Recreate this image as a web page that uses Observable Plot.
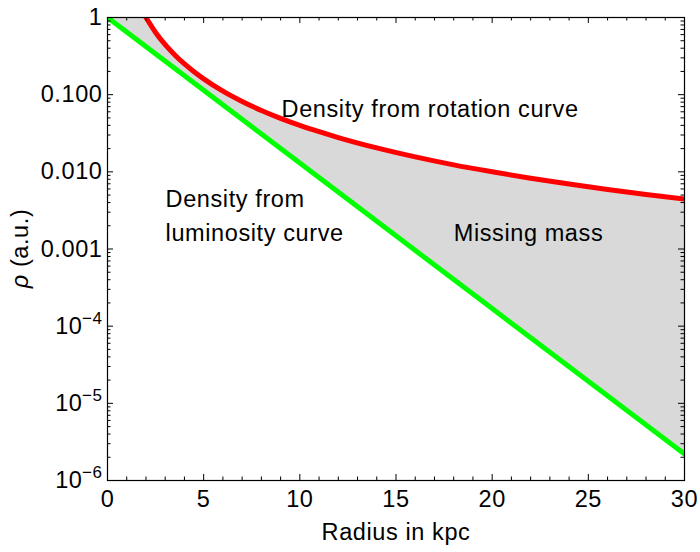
<!DOCTYPE html>
<html><head><meta charset="utf-8">
<script src="https://cdn.jsdelivr.net/npm/d3@7"></script>
<script src="https://cdn.jsdelivr.net/npm/@observablehq/plot@0.6"></script>
<style>body{margin:0;background:#fff} #chart{width:700px;height:552px}</style>
</head><body><div id="chart"></div>
<script>
// Data
const radiusRot = [2, 2.5, 3, 3.5, 4, 4.5, 5, 6, 7, 8, 9, 10, 11, 12, 14, 16, 18, 20, 22, 24, 26, 28, 30];
const densityRot = [1.0, 0.64, 0.444, 0.327, 0.25, 0.198, 0.16, 0.111, 0.0816, 0.0625, 0.0494, 0.040, 0.0331, 0.0278, 0.0204, 0.0156, 0.0123, 0.010, 0.00826, 0.00694, 0.00592, 0.0051, 0.00444];
const radiusLum = [0, 5, 10, 15, 20, 25, 30];
const densityLum = [1, 0.114, 0.0130, 1.48e-3, 1.69e-4, 1.93e-5, 2.2e-6];
const xTickLabels = [0, 5, 10, 15, 20, 25, 30];
const yTickValues = [1, 0.1, 0.01, 0.001];
const yTickLabels = ["1", "0.100", "0.010", "0.001"];
const yPowValues = [1e-4, 1e-5, 1e-6];
const yPowExps = ["\u22124", "\u22125", "\u22126"];
const noteX = [9.05, 3.02, 18.0];
const noteY = [0.0724, 2.93e-3, 1.75e-3];
const noteText = ["Density from rotation curve", "Density from\nluminosity curve", "Missing mass"];

const W = 700, H = 552, mL = 107, mR = 16, mT = 17, mB = 72;
const pw = W - mL - mR, ph = H - mT - mB;
const F = "Liberation Sans, Arial, Helvetica, sans-serif";
const FS = 23.5;

const lum = radiusLum.map((x, i) => ({x, y: densityLum[i]}));
const rot = radiusRot.map((x, i) => ({x, y: densityRot[i]}));
const notes = noteX.map((x, i) => ({x, y: noteY[i], text: noteText[i]}));

const xMajor = d3.range(0, 31, 5);
const xMinor = d3.range(0, 31).filter(d => d % 5 !== 0);
const yMajor = d3.range(-6, 1).map(k => Math.pow(10, k));
const yMinor = [];
for (let k = -6; k < 0; k++) for (let m = 2; m <= 9; m++) yMinor.push(m * Math.pow(10, k));

const plot = Plot.plot({
  width: W, height: H,
  marginLeft: mL, marginRight: mR, marginTop: mT, marginBottom: mB,
  style: {fontFamily: F, fontSize: FS + "px", background: "white", color: "black", letterSpacing: "0.6px"},
  x: {domain: [0, 30], axis: null},
  y: {type: "log", domain: [1e-6, 1], axis: null},
  marks: [
    Plot.areaY(lum, {x: "x", y1: "y", y2: 1, fill: "#d9d9d9"}),
    Plot.areaY(rot, {x: "x", y1: "y", y2: 1, fill: "white", curve: "monotone-x"}),
    Plot.line(lum, {x: "x", y: "y", stroke: "#00ff00", strokeWidth: 5, clip: true}),
    Plot.line(rot, {x: "x", y: "y", stroke: "#ff0000", strokeWidth: 5, curve: "monotone-x", clip: true}),
    // ticks (inward, on all four sides)
    Plot.tickY(yMajor, {y: d => d, insetRight: pw - 6, stroke: "black"}),
    Plot.tickY(yMinor, {y: d => d, insetRight: pw - 3.5, stroke: "black"}),
    Plot.tickY(yMajor, {y: d => d, insetLeft: pw - 6, stroke: "black"}),
    Plot.tickY(yMinor, {y: d => d, insetLeft: pw - 3.5, stroke: "black"}),
    Plot.tickX(xMajor, {x: d => d, insetTop: ph - 6, stroke: "black"}),
    Plot.tickX(xMinor, {x: d => d, insetTop: ph - 3.5, stroke: "black"}),
    Plot.tickX(xMajor, {x: d => d, insetBottom: ph - 6, stroke: "black"}),
    Plot.tickX(xMinor, {x: d => d, insetBottom: ph - 3.5, stroke: "black"}),
    Plot.frame({stroke: "black", strokeWidth: 1.2}),
    // y tick labels
    Plot.text(yTickValues, {y: d => d, text: (d, i) => yTickLabels[i], frameAnchor: "left", textAnchor: "end", dx: -5, fontSize: FS}),
    Plot.text(yPowValues, {y: d => d, text: () => "10", frameAnchor: "left", textAnchor: "end", dx: -25, fontSize: FS}),
    Plot.text(yPowValues, {y: d => d, text: (d, i) => yPowExps[i], frameAnchor: "left", textAnchor: "end", dx: -5, dy: -8, fontSize: 17}),
    // x tick labels
    Plot.text(xTickLabels, {x: d => d, text: d => String(d), frameAnchor: "bottom", lineAnchor: "top", dy: 10, fontSize: FS}),
    Plot.text(["Radius in kpc"], {text: d => d, frameAnchor: "bottom", dy: 59.5, fontSize: FS}),
    // annotations
    Plot.text(notes, {x: "x", y: "y", text: "text", textAnchor: "start", lineHeight: 34.4 / FS, fontSize: FS})
  ]
});

const svg = d3.select(plot);
const yl = svg.append("text")
  .attr("transform", `translate(20,${mT + ph / 2}) rotate(-90)`)
  .attr("text-anchor", "middle").attr("dy", "0.32em")
  .attr("font-family", F).attr("font-size", FS).attr("fill", "black");
yl.append("tspan").attr("font-style", "italic").text("ρ");
yl.append("tspan").text(" (a.u.)");

document.getElementById("chart").appendChild(plot);
</script>
</body></html>
